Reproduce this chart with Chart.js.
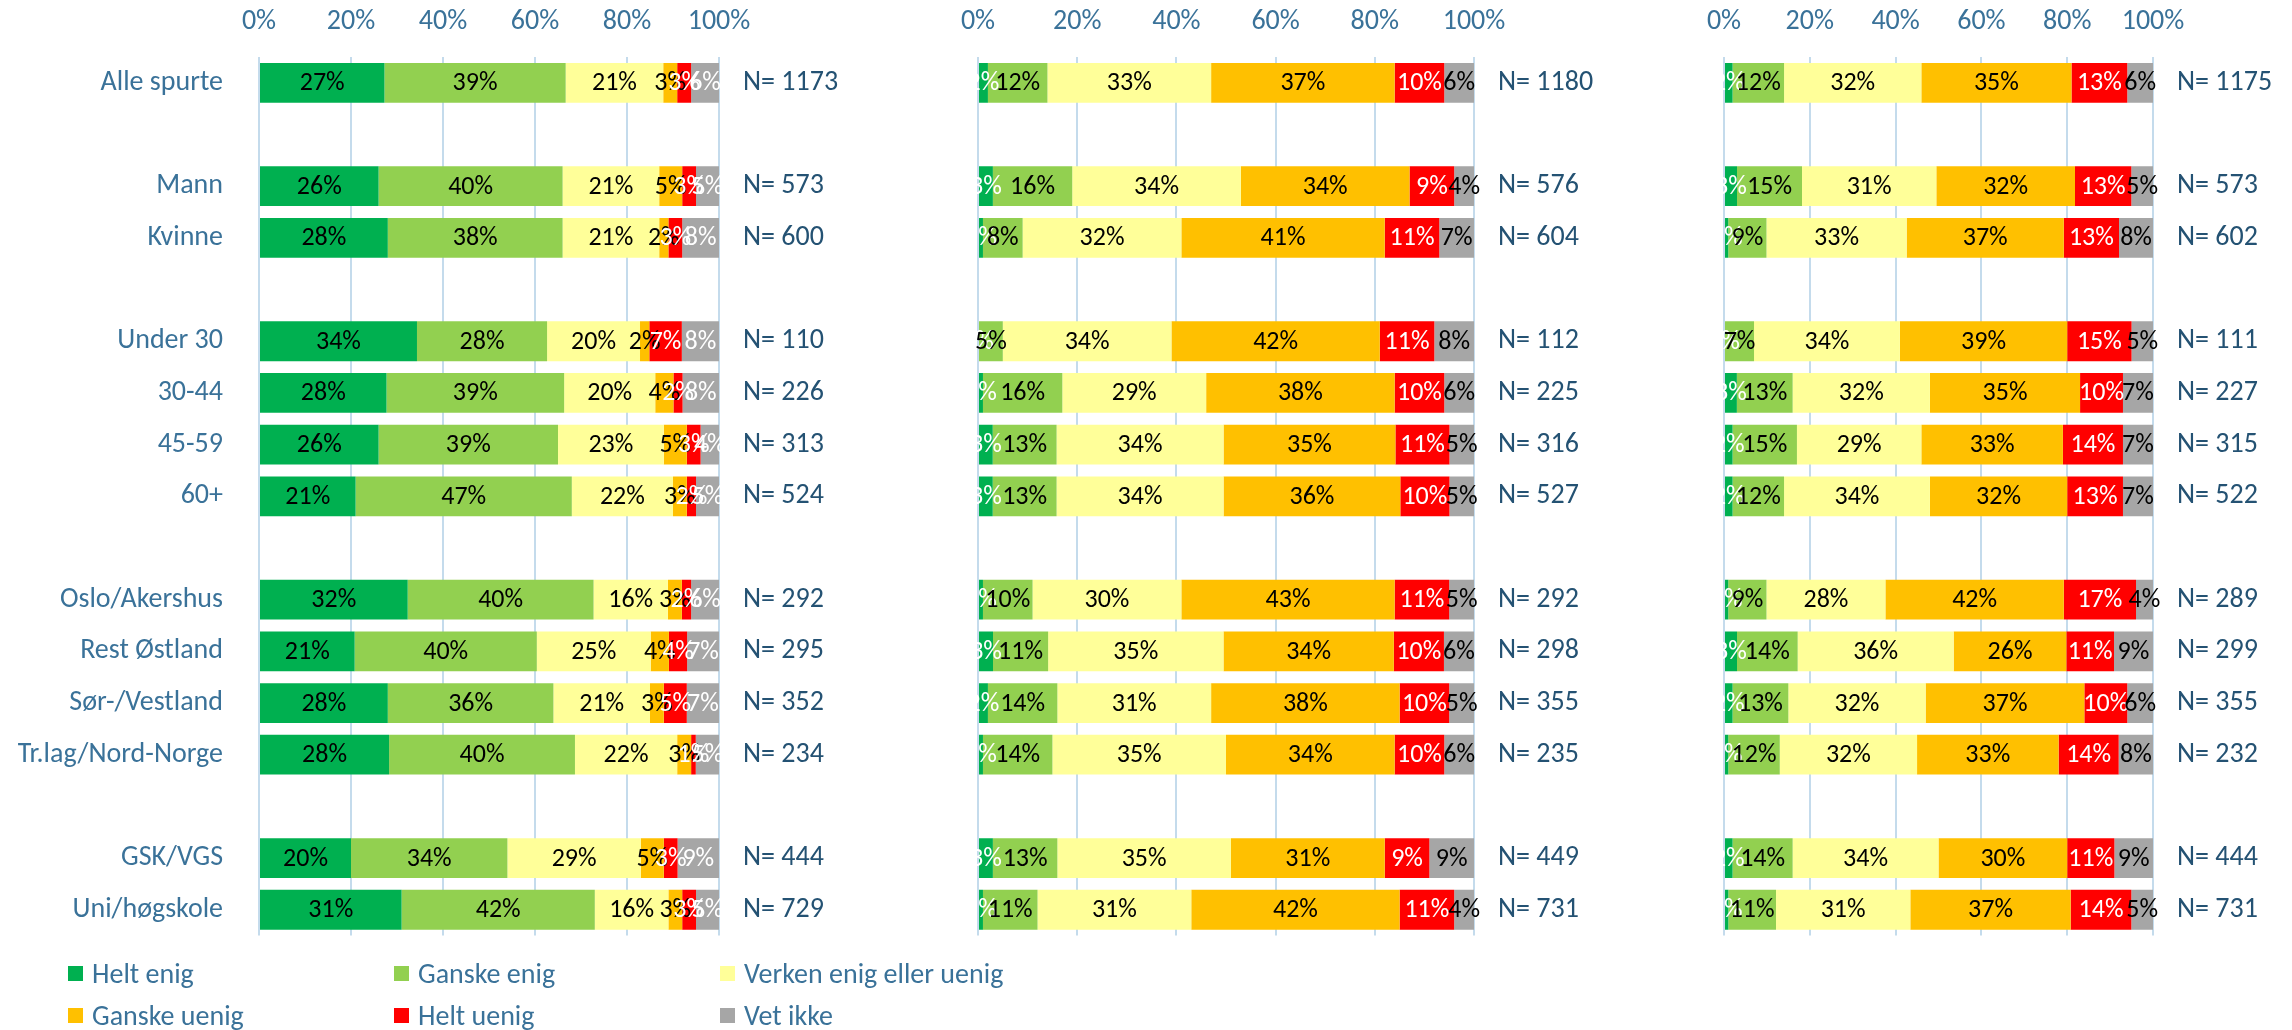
<!DOCTYPE html>
<html>
<head>
<meta charset="utf-8">
<script src="https://cdn.jsdelivr.net/npm/chart.js@4.4.0/dist/chart.umd.min.js"></script>
<style>
  body { margin: 0; background: #fff; }
  #wrap { position: relative; width: 2292px; height: 1030px; overflow: hidden; }
  canvas { position: absolute; top: 0; }
  #legend { position: absolute; left: 68px; top: 953px; display: grid; grid-template-columns: 326px 326px 326px; }
  .item { display: flex; align-items: center; height: 41.5px; font-family: Carlito, Calibri, Lato, sans-serif; font-size: 28px; color: #3A7299; white-space: nowrap; }
  .box { width: 15px; height: 15px; margin-right: 9px; flex: none; }
</style>
</head>
<body>
<div id="wrap">
  <canvas id="panel1" width="860" height="1030" style="left:0px"></canvas>
  <canvas id="panel2" width="660" height="1030" style="left:940px"></canvas>
  <canvas id="panel3" width="612" height="1030" style="left:1680px"></canvas>
  <div id="legend"></div>
</div>
<script>
const categories = ['Alle spurte', '', 'Mann', 'Kvinne', '', 'Under 30', '30-44', '45-59', '60+', '',
    'Oslo/Akershus', 'Rest Østland', 'Sør-/Vestland', 'Tr.lag/Nord-Norge', '', 'GSK/VGS', 'Uni/høgskole'];
const seriesNames = ['Helt enig', 'Ganske enig', 'Verken enig eller uenig', 'Ganske uenig', 'Helt uenig', 'Vet ikke'];
const seriesColors = ['#00B050', '#92D050', '#FFFF99', '#FFC000', '#FF0000', '#A6A6A6'];
const xTicks = [0, 20, 40, 60, 80, 100];

// values per group, in the order of the non-empty categories
const p1HeltEnig     = [27, 26, 28, 34, 28, 26, 21, 32, 21, 28, 28, 20, 31];
const p1GanskeEnig   = [39, 40, 38, 28, 39, 39, 47, 40, 40, 36, 40, 34, 42];
const p1Verken       = [21, 21, 21, 20, 20, 23, 22, 16, 25, 21, 22, 29, 16];
const p1GanskeUenig  = [3, 5, 2, 2, 4, 5, 3, 3, 4, 3, 3, 5, 3];
const p1HeltUenig    = [3, 3, 3, 7, 2, 3, 2, 2, 4, 5, 1, 3, 3];
const p1VetIkke      = [6, 5, 8, 8, 8, 4, 5, 6, 7, 7, 5, 9, 5];
const p1N            = [1173, 573, 600, 110, 226, 313, 524, 292, 295, 352, 234, 444, 729];

const p2HeltEnig     = [2, 3, 1, 0, 1, 3, 3, 1, 3, 2, 1, 3, 1];
const p2GanskeEnig   = [12, 16, 8, 5, 16, 13, 13, 10, 11, 14, 14, 13, 11];
const p2Verken       = [33, 34, 32, 34, 29, 34, 34, 30, 35, 31, 35, 35, 31];
const p2GanskeUenig  = [37, 34, 41, 42, 38, 35, 36, 43, 34, 38, 34, 31, 42];
const p2HeltUenig    = [10, 9, 11, 11, 10, 11, 10, 11, 10, 10, 10, 9, 11];
const p2VetIkke      = [6, 4, 7, 8, 6, 5, 5, 5, 6, 5, 6, 9, 4];
const p2N            = [1180, 576, 604, 112, 225, 316, 527, 292, 298, 355, 235, 449, 731];

const p3HeltEnig     = [2, 3, 1, 0, 3, 2, 2, 1, 3, 2, 1, 2, 1];
const p3GanskeEnig   = [12, 15, 9, 7, 13, 15, 12, 9, 14, 13, 12, 14, 11];
const p3Verken       = [32, 31, 33, 34, 32, 29, 34, 28, 36, 32, 32, 34, 31];
const p3GanskeUenig  = [35, 32, 37, 39, 35, 33, 32, 42, 26, 37, 33, 30, 37];
const p3HeltUenig    = [13, 13, 13, 15, 10, 14, 13, 17, 11, 10, 14, 11, 14];
const p3VetIkke      = [6, 5, 8, 5, 7, 7, 7, 4, 9, 6, 8, 9, 5];
const p3N            = [1175, 573, 602, 111, 227, 315, 522, 289, 299, 355, 232, 444, 731];

const fontFamily = 'Carlito, Calibri, Lato, sans-serif';
const axisColor = '#3A7299';
const nColor = '#245273';
const gridColor = '#C4DBEC';

Chart.defaults.font.family = fontFamily;

function expand(values) {
    let i = 0;
    return categories.map(c => c === '' ? null : values[i++]);
}

function buildDatasets(series, textColors) {
    const sums = series[0].map((_, i) => series.reduce((t, s) => t + s[i], 0));
    return series.map((vals, s) => ({
        label: seriesNames[s],
        data: expand(vals.map((v, i) => v / sums[i] * 100)),
        values: expand(vals),
        textColor: textColors[s],
        backgroundColor: seriesColors[s],
        borderWidth: 0,
        barPercentage: 1,
        categoryPercentage: 0.77
    }));
}

const barLabels = {
    id: 'barLabels',
    afterDatasetsDraw(chart) {
        const ctx = chart.ctx;
        ctx.save();
        ctx.font = '26px ' + fontFamily;
        ctx.textAlign = 'center';
        ctx.textBaseline = 'middle';
        chart.data.datasets.forEach((ds, i) => {
            chart.getDatasetMeta(i).data.forEach((bar, j) => {
                const v = ds.values[j];
                if (v === null || v === undefined) return;
                ctx.fillStyle = ds.textColor;
                ctx.fillText(v + '%', (bar.x + bar.base) / 2, bar.y + 1);
            });
        });
        ctx.restore();
    }
};

function makeChart(id, series, nValues, textColors, showCategories, leftWidth, rightWidth) {
    const nLabels = expand(nValues.map(n => 'N= ' + n)).map(l => l === null ? '' : l);
    return new Chart(document.getElementById(id), {
        type: 'bar',
        data: {
            labels: categories,
            datasets: buildDatasets(series, textColors)
        },
        options: {
            indexAxis: 'y',
            responsive: false,
            animation: false,
            devicePixelRatio: 1,
            layout: { padding: { top: 0, left: 0, right: 0, bottom: 94.4 } },
            plugins: {
                legend: { display: false },
                tooltip: { enabled: false }
            },
            scales: {
                x: {
                    position: 'top',
                    stacked: true,
                    min: xTicks[0],
                    max: xTicks[xTicks.length - 1],
                    afterBuildTicks: scale => { scale.ticks = xTicks.map(v => ({ value: v })); },
                    ticks: {
                        callback: v => v + '%',
                        color: axisColor,
                        font: { size: 28 },
                        padding: 18
                    },
                    grid: { color: gridColor, lineWidth: 2, drawTicks: false },
                    border: { display: false },
                    afterFit: scale => { scale.height = 57; }
                },
                y: {
                    stacked: true,
                    ticks: {
                        display: showCategories,
                        color: axisColor,
                        font: { size: 28 },
                        padding: 28,
                        autoSkip: false
                    },
                    grid: { display: false },
                    border: { display: false },
                    afterFit: scale => { scale.width = leftWidth; }
                },
                y2: {
                    type: 'category',
                    position: 'right',
                    labels: nLabels,
                    offset: true,
                    ticks: {
                        color: nColor,
                        font: { size: 28 },
                        padding: 16,
                        autoSkip: false
                    },
                    grid: { display: false },
                    border: { display: false },
                    afterFit: scale => { scale.width = rightWidth; }
                }
            }
        },
        plugins: [barLabels]
    });
}

makeChart('panel1',
    [p1HeltEnig, p1GanskeEnig, p1Verken, p1GanskeUenig, p1HeltUenig, p1VetIkke], p1N,
    ['#000', '#000', '#000', '#000', '#fff', '#fff'], true, 259, 141);
makeChart('panel2',
    [p2HeltEnig, p2GanskeEnig, p2Verken, p2GanskeUenig, p2HeltUenig, p2VetIkke], p2N,
    ['#fff', '#000', '#000', '#000', '#fff', '#000'], false, 38, 126);
makeChart('panel3',
    [p3HeltEnig, p3GanskeEnig, p3Verken, p3GanskeUenig, p3HeltUenig, p3VetIkke], p3N,
    ['#fff', '#000', '#000', '#000', '#fff', '#000'], false, 44, 139);

const legendEl = document.getElementById('legend');
seriesNames.forEach((name, i) => {
    const item = document.createElement('div');
    item.className = 'item';
    const box = document.createElement('span');
    box.className = 'box';
    box.style.background = seriesColors[i];
    item.appendChild(box);
    item.appendChild(document.createTextNode(name));
    legendEl.appendChild(item);
});
</script>
</body>
</html>
